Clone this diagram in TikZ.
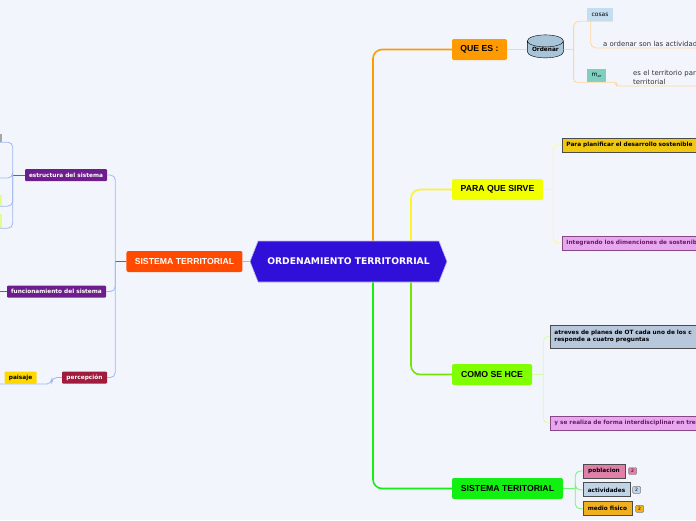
\documentclass[tikz,border=0pt]{standalone}
\usepackage{fontspec}
\setmainfont{Liberation Sans}
\newfontfamily\dejavu{DejaVu Sans}
\usepackage{tikz}
\usetikzlibrary{positioning,shapes.geometric,shapes.symbols}

\definecolor{canvas}{HTML}{F3F5FD}
\definecolor{otblue}{HTML}{3010D8}
\definecolor{stred}{HTML}{FF4A00}
\definecolor{queorange}{HTML}{FF9A00}
\definecolor{parayellow}{HTML}{F2FF00}
\definecolor{comolime}{HTML}{7FFF00}
\definecolor{sisgreen}{HTML}{12F012}
\definecolor{purplelbl}{HTML}{6E1E8C}
\definecolor{perred}{HTML}{A01C3C}
\definecolor{paiyellow}{HTML}{FFD800}
\definecolor{goldbox}{HTML}{F0C810}
\definecolor{violetbox}{HTML}{E8A8F0}
\definecolor{violettext}{HTML}{6A1A6A}
\definecolor{steelbox}{HTML}{B8C8DC}
\definecolor{pinkbox}{HTML}{E080A8}
\definecolor{skybox}{HTML}{C0D4E8}
\definecolor{amberbox}{HTML}{F0B020}
\definecolor{cosasbox}{HTML}{C4DDF0}
\definecolor{tealbox}{HTML}{7ECFC0}
\definecolor{cylfill}{HTML}{A8C4D8}
\definecolor{lightblue}{HTML}{A0B8F0}
\definecolor{darkblue}{HTML}{3868E0}

\newcommand\topicfont{\bfseries\fontsize{8.7}{10}\selectfont}
\newcommand\labfont{\dejavu\bfseries\fontsize{5.8}{7}\selectfont}
\newcommand\notefont{\dejavu\fontsize{6.9}{8.8}\selectfont}
\newcommand\tagfont{\dejavu\fontsize{6}{7}\selectfont}

\begin{document}
\begin{tikzpicture}[x=1pt,y=-1pt,
  node distance=4pt,
  topic/.style={rounded corners=2pt,inner sep=0pt,minimum height=21pt,font=\topicfont},
  lbl/.style={rounded corners=1pt,inner sep=0pt,minimum height=12pt,text=white,font=\labfont},
  leaf/.style={draw=black!70,line width=0.9pt,inner sep=0pt,minimum height=14pt,font=\labfont},
  wide/.style={leaf,anchor=west,text width=160pt,inner xsep=4pt,align=left},
  note/.style={inner sep=1pt,font=\notefont,align=left,text=black!80},
  badge/.style={draw=gray,fill=#1,rounded corners=1pt,inner sep=0pt,minimum width=8pt,
    minimum height=7pt,font=\dejavu\fontsize{4.5}{5}\selectfont},
  stub/.style={fill=#1,inner sep=0pt,minimum width=22pt},
  trunk/.style={draw=#1,line width=1.6pt,rounded corners=9pt},
  twig/.style={draw=#1,line width=0.8pt,rounded corners=5pt}]
\useasboundingbox (0,0) rectangle (696,520);
\fill[canvas] (0,0) rectangle (696,520);
\clip (0,0) rectangle (696,520);

% centre and left side
\node[signal,signal to=west and east,signal pointer angle=137,fill=otblue,
  draw=white!70!otblue,line width=0.6pt,minimum width=197pt,minimum height=41pt,
  inner sep=0pt,text=white,font=\dejavu\bfseries\fontsize{9.2}{11}\selectfont]
  (ot) at (348.5,261.5) {ORDENAMIENTO TERRITORRIAL};
\node[topic,left=7pt of ot,fill=stred,text=white,minimum width=116pt] (st) {SISTEMA TERRITORIAL};
\node[lbl,fill=purplelbl,minimum width=82pt] (est) at (66,175) {estructura del sistema};
\node[lbl,fill=purplelbl,minimum width=99pt] (fun) at (56.5,291.5) {funcionamiento del sistema};
\node[lbl,fill=perred,minimum width=45pt] (per) at (84.5,377.5) {percepción};
\node[lbl,fill=paiyellow,text=black,minimum width=32pt,left=25pt of per] (pai) {paisaje};
\node[stub=black!35,minimum height=8pt] (e1) at (-9,138) {};
\node[stub={green!30!yellow!45},minimum height=11pt] (e3) at (-9,200.5) {};
\node[stub={green!30!yellow!45},minimum height=14pt] (e4) at (-9,221) {};
\coordinate (e2) at (-5,178);
\coordinate (f1) at (-5,291.5);
\coordinate (p1) at (-5,384);

% right side
\node[topic,fill=queorange,minimum width=55pt] (que) at (479.5,49.5) {QUE ES :};
\node[cylinder,shape border rotate=90,aspect=0.45,draw=black,fill=cylfill,
  minimum width=36pt,minimum height=23pt,inner sep=0pt,font=\labfont,
  right=20pt of que] (ord) {Ordenar};
\node[fill=cosasbox,inner sep=0pt,minimum width=26pt,minimum height=13pt,font=\tagfont] (cosas) at (600,14.5) {cosas};
\node[fill=tealbox,inner sep=0pt,minimum width=19pt,minimum height=13pt,font=\tagfont] (mar) at (596.5,75.5)
  {m\raisebox{-1.2pt}{\fontsize{3.6}{4}\selectfont\itshape ar}};
\node[note,anchor=south west,text width=110pt] (actv) at (602,48) {a ordenar son las actividades};
\node[note,anchor=south west,text width=80pt] (terr) at (632,86) {es el territorio para\\territorial};

\node[topic,fill=parayellow,minimum width=91pt] (para) at (497.5,189.5) {PARA QUE SIRVE};
\node[wide,fill=goldbox] (plan) at (562,145) {Para planificar el desarrollo sostenible};
\node[wide,fill=violetbox,draw=violettext!80,text=violettext] (integ) at (562,243) {Integrando los dimenciones de sostenib};

\node[topic,fill=comolime,minimum width=80pt] (como) at (492,374.5) {COMO SE HCE};
\node[wide,fill=steelbox,minimum height=23pt,text width=170pt] (atrev) at (550,336.5)
  {atreves de planes de OT cada uno de los c\\responde a cuatro preguntas};
\node[wide,fill=violetbox,draw=violettext!80,text=violettext,text width=170pt] (yse) at (550,423)
  {y se realiza de forma interdisciplinar en tre};

\node[topic,fill=sisgreen,minimum width=111pt] (sis) at (507.5,488.5) {SISTEMA TERITORIAL};
\node[leaf,fill=pinkbox,minimum width=42pt] (pob) at (604,471) {poblacion};
\node[leaf,fill=skybox,minimum width=47pt,below=4pt of pob.south west,anchor=north west] (act) {actividades};
\node[leaf,fill=amberbox,minimum width=49pt,below=4pt of act.south west,anchor=north west] (med) {medio fisico};
\node[badge=pinkbox,right=3pt of pob] (b1) {2};
\node[badge=skybox,right=2pt of act] (b2) {2};
\node[badge=amberbox,right=3pt of med] (b3) {2};

% connectors
\draw[trunk={queorange}] ([xshift=24.5pt]ot.north) |- (que);
\draw[trunk={yellow!85!white}] ([xshift=62.5pt]ot.north) |- (para);
\draw[trunk={comolime!90!black}] ([xshift=62.5pt]ot.south) |- (como);
\draw[trunk={sisgreen}] ([xshift=24.5pt]ot.south) |- (sis);
\draw[twig=lightblue] (ot) -- (st);

\coordinate (sj) at ([xshift=-11pt]st.west);
\draw[twig=darkblue] (st) -- (sj);
\foreach \n in {est,fun,per}
  \draw[twig=lightblue] (sj) |- (\n.east);
\coordinate (ej) at ([xshift=-12pt]est.west);
\draw[twig=darkblue] (est) -- (ej);
\foreach \n in {e1.south west,e2,e3.south west,e4.south west}
  \draw[twig=lightblue] (ej) |- (\n);
\draw[twig=darkblue] (fun) -- (f1);
\draw[twig=lightblue] (per.west) -- ++(-10,0) |- (p1);

\draw[twig=queorange!40] (que) -- (ord);
\coordinate (oj) at ([xshift=10pt]ord.east);
\draw[twig=queorange!40] (ord) -- (oj);
\draw[twig=queorange!40] (oj) |- (cosas.south east);
\draw[twig=queorange!40] ([xshift=4pt]cosas.south west) |- (actv.south east);
\draw[twig=queorange!40,rounded corners=3pt] (oj) |- (mar.south east) -- ++(10,0) |- (terr.south east);

\coordinate (pj) at ([xshift=10pt]para.east);
\draw[twig=yellow!45] (para) -- (pj);
\foreach \n in {plan,integ}
  \draw[twig=yellow!45] (pj) |- (\n.west);
\coordinate (cj) at ([xshift=11pt]como.east);
\draw[twig=comolime!35] (como) -- (cj);
\foreach \n in {atrev,yse}
  \draw[twig=comolime!35] (cj) |- (\n.west);
\coordinate (tj) at ([xshift=12pt]sis.east);
\draw[twig=sisgreen!60] (sis) -- (tj);
\foreach \n in {pob,act,med}
  \draw[twig=sisgreen!60] (tj) |- (\n.west);
\end{tikzpicture}
\end{document}
